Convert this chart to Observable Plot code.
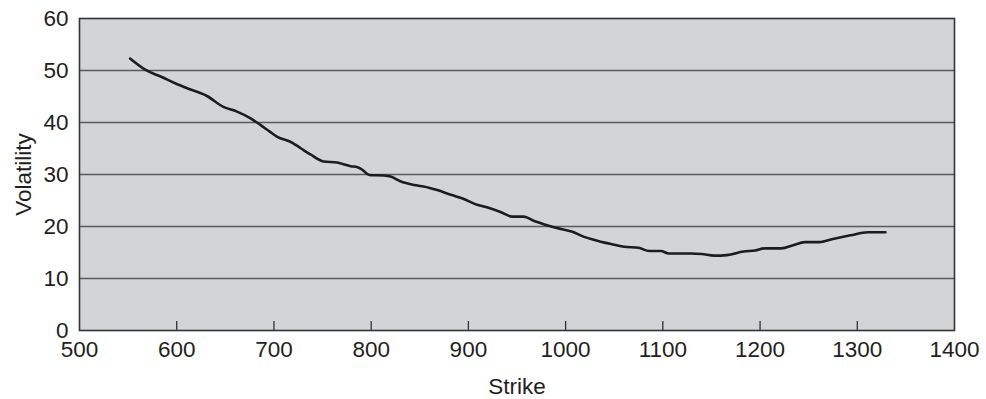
<!DOCTYPE html>
<html>
<head>
<meta charset="utf-8">
<script src="https://cdn.jsdelivr.net/npm/d3@7"></script>
<script src="https://cdn.jsdelivr.net/npm/@observablehq/plot@0.6"></script>
<style>
  html, body { margin: 0; padding: 0; background: #fff; }
  #chart svg { display: block; }
  #chart svg text { font-size: 22.5px; fill: #231f20; }
</style>
</head>
<body>
<div id="chart"></div>
<script>
const strikes = [552, 568, 584, 600, 615, 631, 648, 662, 676, 687, 696, 703, 719, 728, 738, 751, 765, 779, 786, 791, 798, 813, 820, 830, 844, 854, 868, 882, 894, 907, 919, 933, 945, 957, 967, 980, 991, 1007, 1019, 1030, 1040, 1050, 1060, 1075, 1086, 1098, 1106, 1129, 1140, 1153, 1166, 1183, 1195, 1205, 1222, 1234, 1246, 1261, 1275, 1293, 1311, 1329];
const vols    = [52.3, 50.1, 48.8, 47.4, 46.3, 45.1, 43.0, 42.1, 40.8, 39.4, 38.2, 37.3, 36.1, 35.0, 33.8, 32.5, 32.3, 31.6, 31.4, 30.9, 29.9, 29.8, 29.6, 28.7, 28.0, 27.7, 27.0, 26.1, 25.4, 24.3, 23.7, 22.8, 21.9, 21.9, 21.1, 20.3, 19.7, 19.0, 18.0, 17.4, 16.9, 16.5, 16.1, 15.9, 15.3, 15.3, 14.8, 14.8, 14.7, 14.4, 14.5, 15.2, 15.4, 15.8, 15.8, 16.4, 17.0, 17.0, 17.6, 18.3, 18.9, 18.9];
const xTicks = [500, 600, 700, 800, 900, 1000, 1100, 1200, 1300, 1400];
const yTicks = [0, 10, 20, 30, 40, 50, 60];
const gridVals = [10, 20, 30, 40, 50];

const data = strikes.map((s, i) => ({strike: s, vol: vols[i]}));

const chart = Plot.plot({
  width: 986,
  height: 399,
  marginLeft: 79,
  marginRight: 32,
  marginTop: 18,
  marginBottom: 69,
  style: {fontFamily: "'Liberation Sans', Arial, sans-serif", fontSize: "22.5px", color: "#231f20", background: "#fff"},
  x: {domain: [500, 1400]},
  y: {domain: [0, 60]},
  marks: [
    Plot.frame({fill: "#d3d4d6", stroke: null}),
    Plot.ruleY(gridVals, {stroke: "#5a5a5a", strokeWidth: 1.3}),
    Plot.tickX(xTicks.slice(1, -1), {x: d => d, stroke: "#333", strokeWidth: 1.3, insetTop: 303}),
    Plot.frame({stroke: "#333", strokeWidth: 1.6}),
    Plot.axisY(yTicks, {tickSize: 0, tickPadding: 11, tickFormat: d => String(d), label: "Volatility", labelAnchor: "center", labelArrow: "none", labelOffset: 64}),
    Plot.axisX(xTicks, {tickSize: 0, tickPadding: 11, tickFormat: d => String(d), label: "Strike", labelAnchor: "center", labelArrow: "none", labelOffset: 63}),
    Plot.line(data, {x: "strike", y: "vol", stroke: "#1c1c1c", strokeWidth: 2.6, curve: "monotone-x"})
  ]
});
document.getElementById("chart").appendChild(chart);
</script>
</body>
</html>
